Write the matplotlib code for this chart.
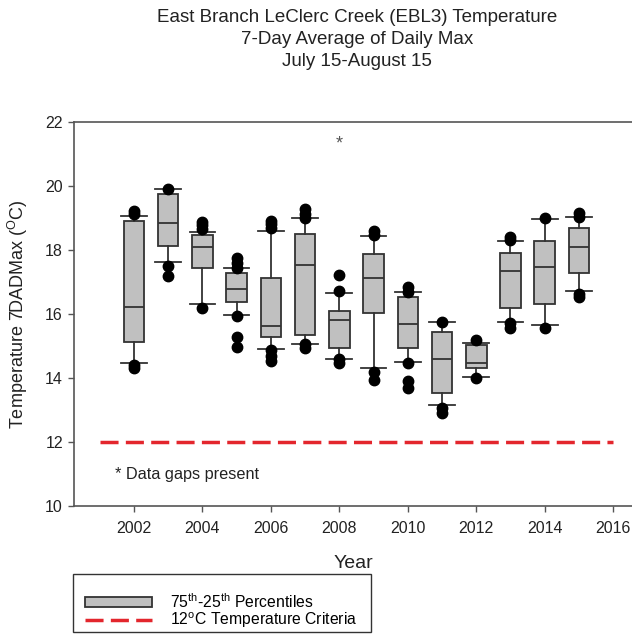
import matplotlib
matplotlib.use("Agg")
import matplotlib.pyplot as plt
from matplotlib.patches import Rectangle, Patch
from matplotlib.lines import Line2D

plt.rcParams['font.family'] = ['Liberation Sans', 'DejaVu Sans']
plt.rcParams['mathtext.fontset'] = 'custom'
plt.rcParams['mathtext.rm'] = 'Liberation Sans'
plt.rcParams['mathtext.it'] = 'Liberation Sans:italic'

years = [2002, 2003, 2004, 2005, 2006, 2007, 2008, 2009, 2010, 2011, 2012, 2013, 2014, 2015]
q1 = [15.14, 18.14, 17.43, 16.39, 15.29, 15.33, 14.94, 16.02, 14.94, 13.54, 14.30, 16.20, 16.31, 17.29]
med = [16.23, 18.83, 18.10, 16.78, 15.61, 17.52, 15.81, 17.14, 15.69, 14.60, 14.48, 17.34, 17.48, 18.10]
q3 = [18.91, 19.75, 18.47, 17.27, 17.11, 18.51, 16.08, 17.86, 16.52, 15.44, 15.03, 17.90, 18.28, 18.70]
whislo = [14.46, 17.61, 16.30, 15.97, 14.92, 15.06, 14.60, 14.30, 14.49, 13.16, 14.04, 15.74, 15.67, 16.72]
whishi = [19.06, 19.91, 18.56, 17.44, 18.59, 18.99, 16.66, 18.44, 16.68, 15.75, 15.08, 18.28, 18.96, 19.04]
fliers = [
    [19.22, 19.12, 14.40, 14.30],
    [19.91, 17.51, 17.20],
    [18.89, 18.78, 18.66, 16.20],
    [17.74, 17.58, 17.45, 15.94, 15.29, 14.96],
    [18.90, 18.80, 18.70, 14.88, 14.70, 14.54],
    [19.27, 19.12, 18.99, 15.06, 14.95],
    [17.23, 16.72, 14.60, 14.47],
    [18.60, 18.47, 14.20, 13.94],
    [16.85, 16.70, 14.46, 13.92, 13.70],
    [15.75, 13.05, 12.90],
    [15.19, 13.99],
    [18.42, 18.30, 15.71, 15.55],
    [18.99, 15.55],
    [19.15, 19.04, 16.64, 16.52],
]
gap_year = 2008
gap_value = 21.3
criteria = 12
criteria_span = [2001, 2016]
title_lines = ['East Branch LeClerc Creek (EBL3) Temperature',
               '7-Day Average of Daily Max',
               'July 15-August 15']

fig = plt.figure(figsize=(6.32, 6.34), dpi=100)
ax = fig.add_axes([74/632, 1-506/634, 1-74/632, 384/634])

stats = []
for i in range(len(years)):
    stats.append(dict(med=med[i], q1=q1[i], q3=q3[i], whislo=whislo[i],
                      whishi=whishi[i], fliers=fliers[i]))

edge = '#333333'
ax.bxp(stats, positions=years, widths=0.6, patch_artist=True, showfliers=True,
       boxprops=dict(facecolor='#c0c0c0', edgecolor=edge, linewidth=1.3),
       medianprops=dict(color=edge, linewidth=1.3),
       whiskerprops=dict(color=edge, linewidth=1.3),
       capprops=dict(color=edge, linewidth=1.3),
       capwidths=0.75,
       flierprops=dict(marker='o', markerfacecolor='black', markeredgecolor='black',
                       markersize=7.5, linestyle='none'),
       manage_ticks=False, zorder=3)

ax.plot(criteria_span, [criteria, criteria], color='#e3262d', linewidth=2.5,
        dashes=(5.2, 2.1), zorder=2)

ax.text(gap_year, gap_value, '*', ha='center', va='center', fontsize=13, color='#555555')
ax.text(2001.45, 11.0, '* Data gaps present', ha='left', va='center', fontsize=11.7, color='#222222')

ax.set_xlim(2000.25, 2016.55)
ax.set_ylim(10, 22)
ax.set_xticks([2002, 2004, 2006, 2008, 2010, 2012, 2014, 2016])
ax.set_yticks([10, 12, 14, 16, 18, 20, 22])
ax.tick_params(direction='out', length=4.5, width=1, color='#555555', labelsize=11.5,
               labelcolor='#222222')
ax.tick_params(axis='x', pad=6)
ax.tick_params(axis='y', pad=3.5)
for s in ['left', 'bottom', 'top']:
    ax.spines[s].set_color('#555555')
    ax.spines[s].set_linewidth(1.2)
ax.spines['right'].set_visible(False)

ax.set_xlabel('Year', fontsize=14, labelpad=14, color='#222222')
ax.set_ylabel(r'Temperature 7DADMax ($^{\rm O}$C)', fontsize=13, labelpad=11, color='#222222')

for yy, line in zip([18, 40, 61], title_lines):
    fig.text(357/632, 1-yy/634, line, ha='center', va='center', fontsize=13.5,
             color='#222222')

# legend frame
fig.patches.append(Rectangle((73/632, 1-632/634), (371-73)/632, (632-574)/634,
                             transform=fig.transFigure, facecolor='white',
                             edgecolor='#333333', linewidth=1.0, zorder=0))
handles = [Patch(facecolor='#c0c0c0', edgecolor=edge, linewidth=1.3),
           Line2D([0], [0], color='#e3262d', linewidth=2.5, dashes=(5.2, 2.1))]
labels = [r'75$^{\rm th}$-25$^{\rm th}$ Percentiles', r'12$^{\rm o}$C Temperature Criteria']
fig.legend(handles, labels, loc='upper left', bbox_to_anchor=(85/632, 1-592/634),
           frameon=False, fontsize=11.3, handlelength=4.3, handleheight=0.6,
           handletextpad=1.1, labelspacing=0.0, borderpad=0, borderaxespad=0)

fig.savefig('out.png', dpi=100)
